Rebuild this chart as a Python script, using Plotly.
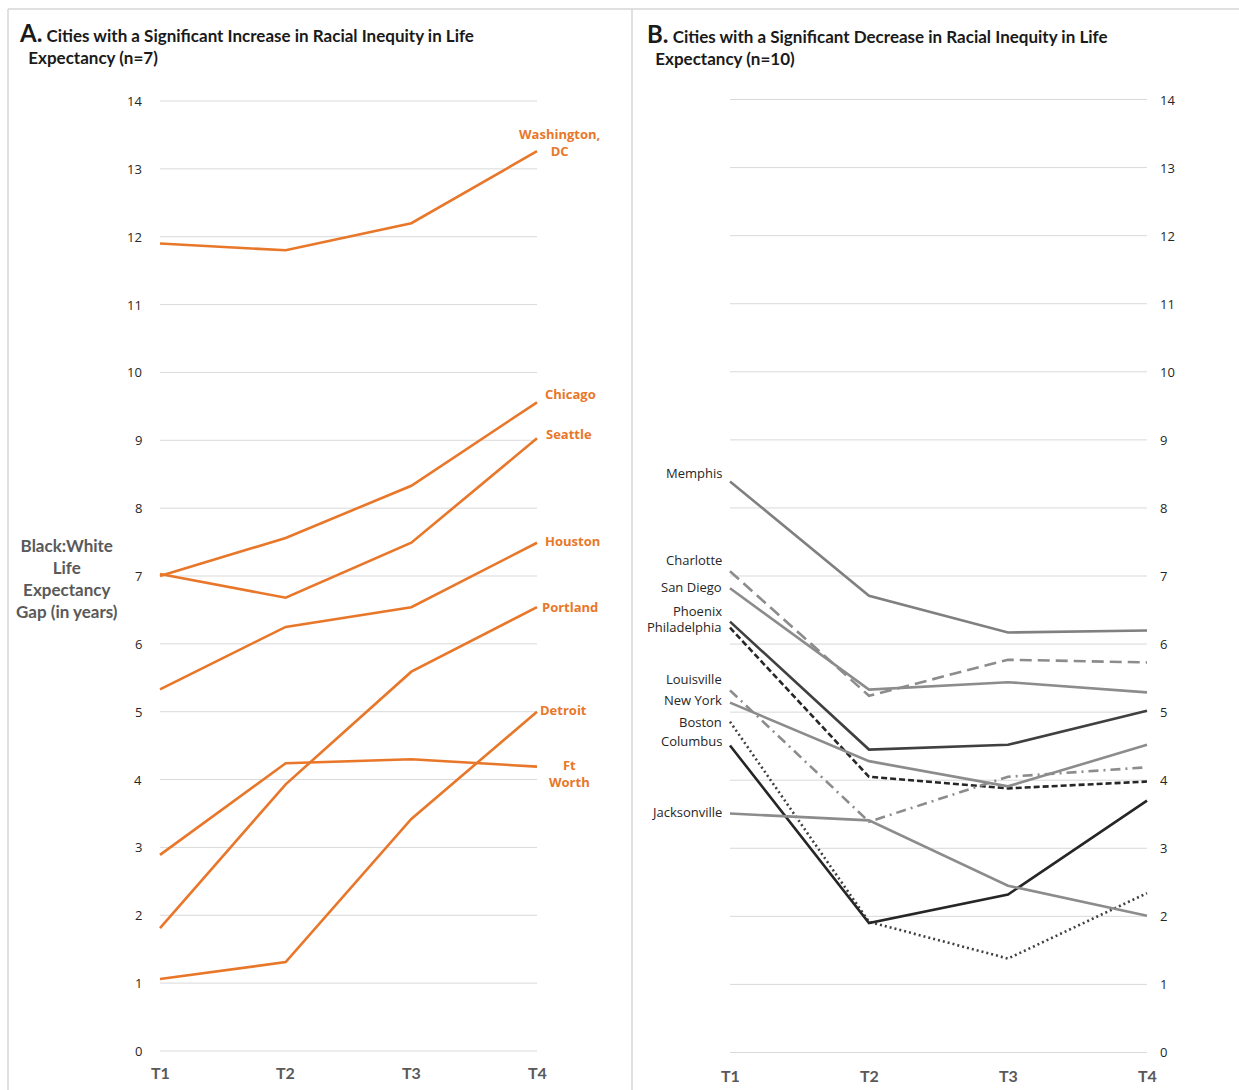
import plotly.graph_objects as go

# Survey periods and y-axis ticks
periods = ["T1", "T2", "T3", "T4"]
y_ticks = list(range(0, 15))

# Panel A: cities where the Black:White life expectancy gap widened
cities_a = ["Washington,<br>DC", "Chicago", "Seattle", "Houston", "Portland", "Detroit", "Ft<br>Worth"]
washington = [11.9, 11.8, 12.2, 13.26]
chicago = [7.0, 7.56, 8.33, 9.56]
seattle = [7.03, 6.68, 7.49, 9.03]
houston = [5.33, 6.25, 6.54, 7.49]
portland = [1.81, 3.93, 5.59, 6.54]
detroit = [1.06, 1.31, 3.42, 5.0]
ft_worth = [2.89, 4.24, 4.3, 4.19]
series_a = [washington, chicago, seattle, houston, portland, detroit, ft_worth]

# Panel B: cities where the gap narrowed
cities_b = ["Memphis", "Charlotte", "San Diego", "Phoenix", "Philadelphia",
            "Louisville", "New York", "Boston", "Columbus", "Jacksonville"]
memphis = [8.39, 6.71, 6.17, 6.2]
charlotte = [7.07, 5.24, 5.77, 5.73]
san_diego = [6.82, 5.33, 5.44, 5.29]
phoenix = [6.33, 4.45, 4.52, 5.02]
philadelphia = [6.24, 4.05, 3.88, 3.98]
louisville = [5.32, 3.39, 4.05, 4.19]
new_york = [5.14, 4.28, 3.91, 4.52]
boston = [4.86, 1.92, 1.38, 2.34]
columbus = [4.51, 1.9, 2.32, 3.7]
jacksonville = [3.51, 3.41, 2.45, 2.01]
series_b = [memphis, charlotte, san_diego, phoenix, philadelphia,
            louisville, new_york, boston, columbus, jacksonville]

W, H = 1239, 1090
ORANGE = "#E8772A"
GRID = "#D9D9D9"
TEXT = "#262626"
LABEL_FONT = "Open Sans"
TITLE_FONT = "Lato"

# line styles for panel B (colour, dash)
styles_b = [
    ("#808080", "solid"),
    ("#8C8C8C", "12px,6px"),
    ("#8C8C8C", "solid"),
    ("#404040", "solid"),
    ("#262626", "6px,3px"),
    ("#8C8C8C", "10px,5px,2px,5px"),
    ("#8C8C8C", "solid"),
    ("#404040", "2px,3px"),
    ("#262626", "solid"),
    ("#8C8C8C", "solid"),
]

# end-of-line label offsets (pixels)
label_shift_a = [(22, 9), (33, 8), (32, 4), (35, 2), (33, 0), (26, 2), (32, -7)]
label_shift_b = [8, 11, 1, 11, 1, 11, 3, 0, 4, 2]

xs = list(range(len(periods)))

fig = go.Figure()

for vals in series_a:
    fig.add_trace(go.Scatter(x=xs, y=vals, mode="lines", xaxis="x", yaxis="y",
                             line=dict(color=ORANGE, width=2.6), hoverinfo="skip",
                             showlegend=False))

for vals, (col, dash) in zip(series_b, styles_b):
    fig.add_trace(go.Scatter(x=xs, y=vals, mode="lines", xaxis="x2", yaxis="y2",
                             line=dict(color=col, width=2.6, dash=dash), hoverinfo="skip",
                             showlegend=False))

axis_off = dict(showgrid=False, zeroline=False, showticklabels=False, showline=False, fixedrange=True)

def px_x(p):
    return p / W

def px_y(p):
    return 1 - p / H

fig.update_layout(
    width=W, height=H,
    margin=dict(l=0, r=0, t=0, b=0),
    paper_bgcolor="white", plot_bgcolor="rgba(0,0,0,0)",
    xaxis=dict(domain=[px_x(122.3), px_x(574.7)], range=[-0.3, 3.3], **axis_off),
    yaxis=dict(domain=[px_y(1084.9), px_y(67.1)], range=[-0.5, 14.5], **axis_off),
    xaxis2=dict(domain=[px_x(688.3), px_x(1188.7)], range=[-0.3, 3.3], anchor="y2", **axis_off),
    yaxis2=dict(domain=[px_y(1086.5), px_y(65.5)], range=[-0.5, 14.5], anchor="x2", **axis_off),
)

shapes = []
# horizontal gridlines, spanning T1..T4
for xr, yr in (("x", "y"), ("x2", "y2")):
    for t in y_ticks:
        shapes.append(dict(type="line", xref=xr, yref=yr, x0=xs[0], x1=xs[-1], y0=t, y1=t,
                           line=dict(color=GRID, width=1), layer="below"))

# frame lines around and between the panels
frame = dict(color="#D6D6D6", width=1.5)
shapes.append(dict(type="line", xref="paper", yref="paper", x0=px_x(8), x1=1, y0=px_y(9), y1=px_y(9), line=frame))
shapes.append(dict(type="line", xref="paper", yref="paper", x0=px_x(8), x1=px_x(8), y0=0, y1=px_y(9), line=frame))
shapes.append(dict(type="line", xref="paper", yref="paper", x0=px_x(632), x1=px_x(632), y0=0, y1=px_y(9), line=frame))
fig.update_layout(shapes=shapes)

ann = []
# y tick labels
for t in y_ticks:
    ann.append(dict(x=xs[0], y=t, xref="x", yref="y", text=str(t), showarrow=False,
                    xanchor="right", xshift=-16, font=dict(family=LABEL_FONT, size=13, color=TEXT)))
    ann.append(dict(x=xs[-1], y=t, xref="x2", yref="y2", text=str(t), showarrow=False,
                    xanchor="left", xshift=11, font=dict(family=LABEL_FONT, size=13, color=TEXT)))

# x tick labels
for i, p in zip(xs, periods):
    ann.append(dict(x=i, y=0, xref="x", yref="y", text=f"<b>{p}</b>", showarrow=False,
                    yshift=-22, font=dict(family=TITLE_FONT, size=16, color="#595959")))
    ann.append(dict(x=i, y=0, xref="x2", yref="y2", text=f"<b>{p}</b>", showarrow=False,
                    yshift=-23, font=dict(family=TITLE_FONT, size=16, color="#595959")))

# panel A end labels
for name, vals, (dx, dy) in zip(cities_a, series_a, label_shift_a):
    ann.append(dict(x=xs[-1], y=vals[-1], xref="x", yref="y", text=f"<b>{name}</b>",
                    showarrow=False, xanchor="center", xshift=dx, yshift=dy,
                    font=dict(family=LABEL_FONT, size=13, color=ORANGE)))

# panel B start labels
for name, vals, dy in zip(cities_b, series_b, label_shift_b):
    ann.append(dict(x=xs[0], y=vals[0], xref="x2", yref="y2", text=name,
                    showarrow=False, xanchor="right", xshift=-6, yshift=dy,
                    font=dict(family=LABEL_FONT, size=13, color="#262626")))

# y-axis title
ann.append(dict(x=px_x(67), y=px_y(578), xref="paper", yref="paper",
                text="<b>Black:White<br>Life<br>Expectancy<br>Gap (in years)</b>",
                showarrow=False, align="center", xanchor="center", yanchor="middle",
                font=dict(family=TITLE_FONT, size=17, color="#595959")))

# panel titles (two lines, second line indented)
def title(x, y, letter, line1, line2):
    ann.append(dict(x=px_x(x), y=px_y(y), xref="paper", yref="paper",
                    text=(f"<b><span style='font-size:24px'>{letter}.</span> {line1}"
                          f"<br>&nbsp;&nbsp;{line2}</b>"),
                    showarrow=False, xanchor="left", yanchor="top", align="left",
                    font=dict(family=TITLE_FONT, size=17, color="#1a1a1a")))

title(17, 16, "A", "Cities with a Significant Increase in Racial Inequity in Life", "Expectancy (n=7)")
title(645, 17, "B", "Cities with a Significant Decrease in Racial Inequity in Life", "Expectancy (n=10)")

fig.update_layout(annotations=ann)
fig.write_html("out.html")
